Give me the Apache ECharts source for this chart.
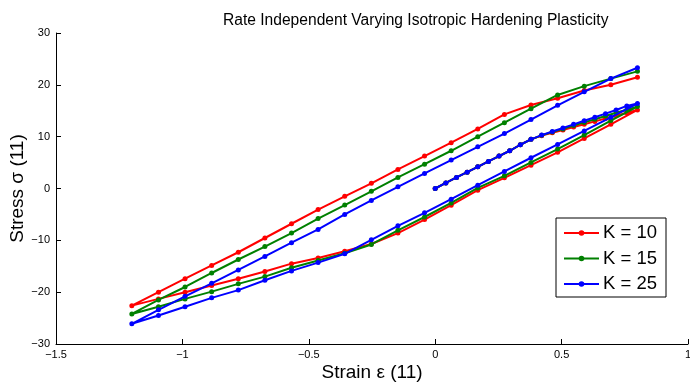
<!DOCTYPE html>
<html>
<head>
<meta charset="utf-8">
<script src="https://cdn.jsdelivr.net/npm/echarts@6/dist/echarts.min.js"></script>
<style>html,body{margin:0;padding:0;background:#fff;}#c{width:690px;height:387px;}</style>
</head>
<body>
<div id="c"></div>
<script>
// Initial loading strain values (0 -> 0.8)
var strainLoad = [0, 0.0421, 0.0842, 0.1263, 0.1684, 0.2105, 0.2526, 0.2947, 0.3368, 0.3789, 0.4211, 0.4632, 0.5053, 0.5474, 0.5895, 0.6316, 0.6737, 0.7158, 0.7579, 0.8];
// Unloading strain values (0.8 -> -1.2)
var strainDown = [0.8, 0.6947, 0.5895, 0.4842, 0.3789, 0.2737, 0.1684, 0.0632, -0.0421, -0.1474, -0.2526, -0.3579, -0.4632, -0.5684, -0.6737, -0.7789, -0.8842, -0.9895, -1.0947, -1.2];
// Reloading strain values (-1.2 -> 0.8)
var strainUp = [-1.2, -1.0947, -0.9895, -0.8842, -0.7789, -0.6737, -0.5684, -0.4632, -0.3579, -0.2526, -0.1474, -0.0421, 0.0632, 0.1684, 0.2737, 0.3789, 0.4842, 0.5895, 0.6947, 0.8];

var k10Load = [0, 1.08, 2.13, 3.15, 4.18, 5.22, 6.25, 7.28, 8.44, 9.48, 10.2, 10.75, 11.3, 11.85, 12.4, 12.95, 13.5, 14.05, 14.6, 15.15];
var k10Down = [15.15, 12.38, 9.67, 6.97, 4.5, 2.05, -0.33, -3.23, -6.0, -8.6, -10.7, -12.1, -13.4, -14.5, -16.0, -17.4, -18.7, -20.0, -21.3, -22.6];
var k10Up = [-22.6, -20.0, -17.4, -14.85, -12.3, -9.55, -6.8, -4.07, -1.5, 1.0, 3.68, 6.25, 8.83, 11.5, 14.3, 16.1, 17.4, 18.9, 20.0, 21.45];

var k15Load = [0, 1.08, 2.13, 3.15, 4.18, 5.22, 6.25, 7.28, 8.44, 9.48, 10.25, 10.9, 11.5, 12.15, 12.75, 13.35, 14.0, 14.6, 15.2, 15.8];
var k15Down = [15.8, 13.1, 10.3, 7.6, 5.03, 2.44, 0.12, -2.78, -5.5, -8.07, -10.8, -12.5, -13.9, -15.3, -17.0, -18.4, -19.9, -21.3, -22.8, -24.2];
var k15Up = [-24.2, -21.5, -19.0, -16.3, -13.7, -11.2, -8.6, -5.8, -3.2, -0.55, 2.13, 4.7, 7.28, 10.0, 12.7, 15.4, 18.05, 19.75, 21.2, 22.6];

var k25Load = [0, 1.08, 2.13, 3.15, 4.18, 5.22, 6.25, 7.28, 8.44, 9.48, 10.3, 11.0, 11.67, 12.38, 13.08, 13.74, 14.44, 15.15, 15.93, 16.4];
var k25Down = [16.4, 13.74, 11.1, 8.5, 5.93, 3.3, 0.64, -2.07, -4.7, -7.2, -9.9, -12.6, -14.3, -15.9, -17.7, -19.6, -21.1, -22.8, -24.5, -26.1];
var k25Up = [-26.1, -23.4, -20.8, -18.3, -15.7, -13.1, -10.45, -7.9, -5.0, -2.3, 0.32, 2.9, 5.48, 8.05, 10.6, 13.3, 16.05, 18.65, 21.2, 23.3];

var seriesNames = ['K = 10', 'K = 15', 'K = 25'];
var seriesColors = ['#ff0000', '#008000', '#0000ff'];

function path(load, down, up) {
  var pts = [];
  var i;
  for (i = 0; i < strainLoad.length; i++) pts.push([strainLoad[i], load[i]]);
  for (i = 1; i < strainDown.length; i++) pts.push([strainDown[i], down[i]]);
  for (i = 1; i < strainUp.length; i++) pts.push([strainUp[i], up[i]]);
  return pts;
}
var paths = [path(k10Load, k10Down, k10Up), path(k15Load, k15Down, k15Up), path(k25Load, k25Down, k25Up)];

function minus(v) { return String(v).replace('-', '\u2212'); }
var FONT = '"Liberation Sans", Arial, Helvetica, sans-serif';

var chart = echarts.init(document.getElementById('c'), null, {renderer: 'canvas'});
chart.setOption({
  backgroundColor: '#ffffff',
  animation: false,
  textStyle: {fontFamily: FONT, color: '#000'},
  title: {
    text: 'Rate Independent Varying Isotropic Hardening Plasticity',
    left: 218, top: 8,
    textStyle: {fontFamily: FONT, fontSize: 15.6, fontWeight: 'normal', color: '#000'}
  },
  grid: {left: 56, right: 2, top: 33, bottom: 43, containLabel: false, outerBoundsMode: 'none'},
  legend: {
    orient: 'vertical',
    left: 556, top: 218,
    padding: [5, 9, 3, 7],
    itemWidth: 35, itemHeight: 7, itemGap: 5.5,
    borderColor: '#000', borderWidth: 1, backgroundColor: '#fff',
    textStyle: {fontFamily: FONT, fontSize: 18.5, lineHeight: 20, color: '#000', padding: [0, 0, 0, -1]},
    data: seriesNames
  },
  xAxis: {
    type: 'value', min: -1.5, max: 1, interval: 0.5,
    name: 'Strain \u03b5 (11)', nameLocation: 'middle', nameGap: 19, nameMoveOverlap: false,
    nameTextStyle: {fontFamily: FONT, fontSize: 19, color: '#000'},
    axisLine: {show: true, onZero: false, lineStyle: {color: '#000', width: 1}},
    axisTick: {show: true, inside: true, length: 5, lineStyle: {color: '#000'}},
    axisLabel: {fontFamily: FONT, fontSize: 11, color: '#000', margin: 5, formatter: function (v) { return minus(v); }},
    splitLine: {show: false}
  },
  yAxis: {
    type: 'value', min: -30, max: 30, interval: 10,
    name: 'Stress \u03c3 (11)', nameLocation: 'middle', nameGap: 29, nameMoveOverlap: false,
    nameTextStyle: {fontFamily: FONT, fontSize: 19, color: '#000'},
    axisLine: {show: true, onZero: false, lineStyle: {color: '#000', width: 1}},
    axisTick: {show: true, inside: true, length: 5, lineStyle: {color: '#000'}},
    axisLabel: {fontFamily: FONT, fontSize: 11, color: '#000', margin: 6, formatter: function (v) { return minus(v); }},
    splitLine: {show: false}
  },
  series: seriesNames.map(function (n, i) {
    return {
      name: n, type: 'line', data: paths[i],
      symbol: 'circle', symbolSize: 5, showSymbol: true,
      lineStyle: {color: seriesColors[i], width: 2},
      itemStyle: {color: seriesColors[i]},
      z: 2 + i
    };
  })
});
</script>
</body>
</html>
